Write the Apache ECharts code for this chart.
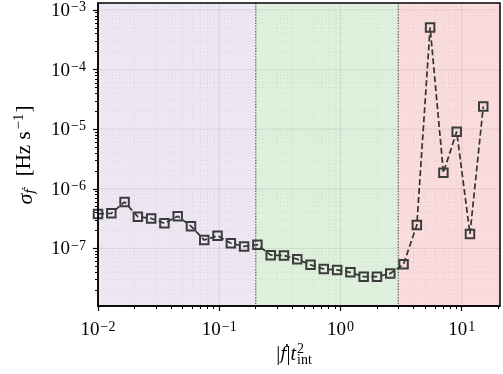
<!DOCTYPE html>
<html>
<head>
<meta charset="utf-8">
<script src="https://cdn.jsdelivr.net/npm/echarts@6/dist/echarts.min.js"></script>
<style>
  html, body { margin: 0; padding: 0; background: #fff; }
  #chart { width: 503px; height: 374px; }
</style>
</head>
<body>
<div id="chart"></div>
<script>
// Normalised drift-rate bins |fdot| * t_int^2 (log-spaced)
const fdotT2 = [
  0.0100, 0.01288, 0.01657, 0.02132, 0.02744, 0.03531, 0.04545, 0.05849,
  0.07527, 0.09687, 0.1247, 0.1604, 0.2065, 0.2658, 0.3420, 0.4401,
  0.5664, 0.7290, 0.9385, 1.208, 1.554, 2.001, 2.575, 3.314,
  4.265, 5.489, 7.065, 9.094, 11.70, 15.06
];
// Spread of the recovered drift rate in each bin [Hz s^-1]
const sigmaFdot = [
  3.78e-7, 3.88e-7, 6.0e-7, 3.39e-7, 3.18e-7, 2.64e-7, 3.47e-7, 2.36e-7,
  1.38e-7, 1.63e-7, 1.22e-7, 1.08e-7, 1.15e-7, 7.7e-8, 7.6e-8, 6.6e-8,
  5.3e-8, 4.5e-8, 4.35e-8, 3.97e-8, 3.35e-8, 3.35e-8, 3.8e-8, 5.4e-8,
  2.47e-7, 5.1e-4, 1.86e-6, 9.1e-6, 1.75e-7, 2.4e-5
];
// Regime boundaries on the x axis and their shading
const regimeEdges = [0.01, 0.2, 3, 20.7];
const regimeColors = ['#ece7f3', '#dff0dd', '#fadcdd'];
// Axis ranges
const xRange = [0.01, 20.7];
const yRange = [1.08e-8, 1.31e-3];
// Decade ticks and their exponent labels
const xMajorTicks = [0.01, 0.1, 1, 10];
const xTickLabels = ['−2', '−1', '0', '1'];
const yMajorTicks = [1e-7, 1e-6, 1e-5, 1e-4, 1e-3];
const yTickLabels = ['−7', '−6', '−5', '−4', '−3'];

// Minor ticks at 2..9 times each decade inside the range
function minorTicks(range) {
  const out = [];
  const lo = Math.floor(Math.log10(range[0])), hi = Math.ceil(Math.log10(range[1]));
  for (let e = lo; e < hi; e++) {
    for (let m = 2; m <= 9; m++) {
      const v = m * Math.pow(10, e);
      if (v >= range[0] && v <= range[1]) out.push(v);
    }
  }
  return out;
}
const xMinorTicks = minorTicks(xRange);
const yMinorTicks = minorTicks(yRange);

const SERIF = '"Liberation Serif", "DejaVu Serif", serif';
const DOTF = '"DejaVu Serif", serif';
const tickRich = {
  b: { fontFamily: SERIF, fontSize: 19, color: '#000', verticalAlign: 'bottom', lineHeight: 21 },
  s: { fontFamily: SERIF, fontSize: 14, color: '#000', verticalAlign: 'bottom', lineHeight: 21, padding: [0, 0, 6, 1] }
};
function tickFormatter(ticks, labels) {
  return function (v) {
    for (let i = 0; i < ticks.length; i++) {
      if (Math.abs(Math.log10(v) - Math.log10(ticks[i])) < 1e-6) {
        return '{b|10}{s|' + labels[i] + '}';
      }
    }
    return '';
  };
}

const chart = echarts.init(document.getElementById('chart'), null, { renderer: 'canvas' });

function renderBackground(params, api) {
  const cs = params.coordSys;
  const top = cs.y, bottom = cs.y + cs.height, left = cs.x, right = cs.x + cs.width;
  const children = [];
  // regime shading
  for (let i = 0; i < regimeColors.length; i++) {
    const x0 = api.coord([regimeEdges[i], yRange[0]])[0];
    const x1 = api.coord([regimeEdges[i + 1], yRange[0]])[0];
    children.push({ type: 'rect', shape: { x: x0, y: top, width: x1 - x0, height: cs.height },
      style: { fill: regimeColors[i] } });
  }
  // minor grid (dotted)
  xMinorTicks.forEach(v => {
    const x = api.coord([v, yRange[0]])[0];
    children.push({ type: 'line', shape: { x1: x, y1: top, x2: x, y2: bottom },
      style: { stroke: 'rgba(0,0,0,0.08)', lineWidth: 1, lineDash: [1, 2.5] } });
  });
  yMinorTicks.forEach(v => {
    const y = api.coord([xRange[0], v])[1];
    children.push({ type: 'line', shape: { x1: left, y1: y, x2: right, y2: y },
      style: { stroke: 'rgba(0,0,0,0.08)', lineWidth: 1, lineDash: [1, 2.5] } });
  });
  // major grid
  xMajorTicks.forEach(v => {
    const x = api.coord([v, yRange[0]])[0];
    children.push({ type: 'line', shape: { x1: x, y1: top, x2: x, y2: bottom },
      style: { stroke: 'rgba(0,0,0,0.07)', lineWidth: 1.2 } });
  });
  yMajorTicks.forEach(v => {
    const y = api.coord([xRange[0], v])[1];
    children.push({ type: 'line', shape: { x1: left, y1: y, x2: right, y2: y },
      style: { stroke: 'rgba(0,0,0,0.07)', lineWidth: 1.2 } });
  });
  // regime boundaries
  regimeEdges.slice(1, -1).forEach(v => {
    const x = api.coord([v, yRange[0]])[0];
    children.push({ type: 'line', shape: { x1: x, y1: top, x2: x, y2: bottom },
      style: { stroke: '#6e6e6e', lineWidth: 1.4, lineDash: [1.4, 1.4] } });
  });
  return { type: 'group', children: children };
}

function logAxis(base) {
  return Object.assign({
    type: 'log',
    logBase: 10,
    splitLine: { show: false },
    minorTick: { show: false },
    minorSplitLine: { show: false }
  }, base);
}

chart.setOption({
  animation: false,
  backgroundColor: '#fff',
  grid: { left: 98, right: 3, top: 3, bottom: 68, show: true, borderColor: '#000', borderWidth: 1.5, z: 10 },
  xAxis: [
    logAxis({
      min: xRange[0], max: xRange[1], position: 'bottom', z: 11,
      axisLine: { show: true, lineStyle: { color: '#000', width: 1.5 } },
      axisTick: { show: true, inside: false, length: 5, customValues: xMajorTicks, lineStyle: { color: '#000', width: 1.2 } },
      axisLabel: { show: true, margin: 13, customValues: xMajorTicks, formatter: tickFormatter(xMajorTicks, xTickLabels), rich: tickRich }
    }),
    logAxis({
      min: xRange[0], max: xRange[1], position: 'bottom', z: 11,
      axisLine: { show: false },
      axisTick: { show: true, inside: false, length: 3, customValues: xMinorTicks, lineStyle: { color: '#000', width: 1 } },
      axisLabel: { show: false }
    })
  ],
  yAxis: [
    logAxis({
      min: yRange[0], max: yRange[1], position: 'left', z: 11,
      axisLine: { show: true, lineStyle: { color: '#000', width: 1.5 } },
      axisTick: { show: true, inside: false, length: 5, customValues: yMajorTicks, lineStyle: { color: '#000', width: 1.2 } },
      axisLabel: { show: true, margin: 12, customValues: yMajorTicks, formatter: tickFormatter(yMajorTicks, yTickLabels), rich: tickRich }
    }),
    logAxis({
      min: yRange[0], max: yRange[1], position: 'left', z: 11,
      axisLine: { show: false },
      axisTick: { show: true, inside: false, length: 3, customValues: yMinorTicks, lineStyle: { color: '#000', width: 1 } },
      axisLabel: { show: false }
    })
  ],
  graphic: [
    {
      type: 'text', x: 25, y: 155, rotation: Math.PI / 2, z: 20,
      style: {
        text: '{i|σ}{sub|ḟ}{n|  [Hz s}{sup|−1}{n|]}',
        align: 'center', verticalAlign: 'middle',
        rich: {
          i: { fontFamily: SERIF, fontStyle: 'italic', fontSize: 22, color: '#000', verticalAlign: 'bottom', lineHeight: 24 },
          sub: { fontFamily: DOTF, fontStyle: 'italic', fontSize: 13, color: '#000', verticalAlign: 'bottom', lineHeight: 24, padding: [0, 2, 0, 0] },
          n: { fontFamily: SERIF, fontSize: 21, color: '#000', verticalAlign: 'bottom', lineHeight: 24, padding: [0, 0, 2, 0] },
          sup: { fontFamily: SERIF, fontSize: 15, color: '#000', verticalAlign: 'bottom', lineHeight: 24, padding: [0, 1, 10, 2] }
        }
      }
    },
    {
      type: 'text', x: 296, y: 355, z: 20,
      style: {
        text: '{n||}{i|ḟ}{n||}{t|t}',
        align: 'right', verticalAlign: 'middle',
        rich: {
          n: { fontFamily: SERIF, fontSize: 20, color: '#000' },
          i: { fontFamily: DOTF, fontStyle: 'italic', fontSize: 17, color: '#000' },
          t: { fontFamily: SERIF, fontStyle: 'italic', fontSize: 20, color: '#000' }
        }
      }
    },
    {
      type: 'text', x: 297, y: 349, z: 20,
      style: { text: '2', align: 'left', verticalAlign: 'middle', fontFamily: SERIF, fontSize: 14, fill: '#000' }
    },
    {
      type: 'text', x: 297, y: 360, z: 20,
      style: { text: 'int', align: 'left', verticalAlign: 'middle', fontFamily: SERIF, fontSize: 14, fill: '#000' }
    }
  ],
  series: [
    {
      type: 'custom',
      xAxisIndex: 0, yAxisIndex: 0,
      z: 1,
      silent: true,
      clip: false,
      data: [[xRange[0], yRange[0]]],
      renderItem: renderBackground
    },
    {
      type: 'line',
      xAxisIndex: 0, yAxisIndex: 0,
      z: 5,
      data: fdotT2.map((x, i) => [x, sigmaFdot[i]]),
      symbol: 'rect',
      symbolSize: 8.5,
      showSymbol: true,
      lineStyle: { color: '#333', width: 1.7, type: [6, 3] },
      itemStyle: { color: 'rgba(0,0,0,0)', borderColor: '#3c3c3c', borderWidth: 2 },
      emphasis: { disabled: true }
    }
  ]
});
</script>
</body>
</html>
